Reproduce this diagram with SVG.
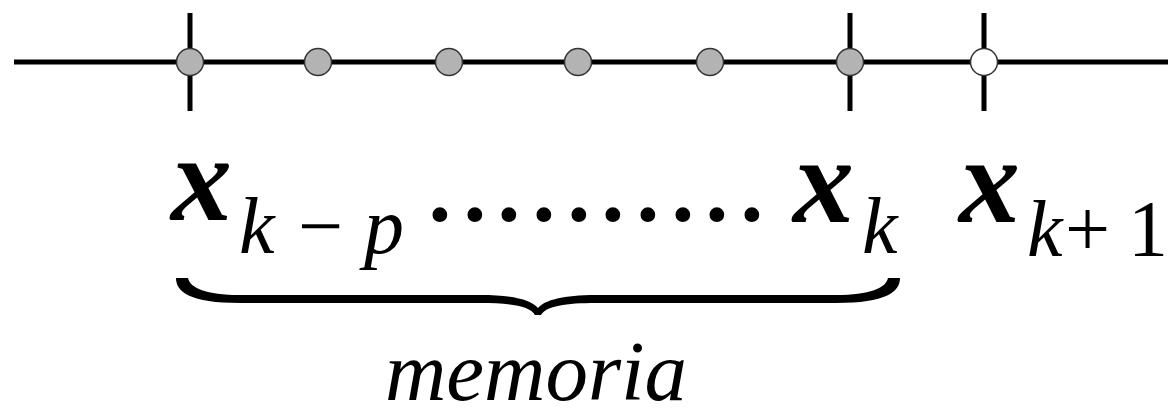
<svg xmlns="http://www.w3.org/2000/svg" width="1174" height="416" viewBox="0 0 1174 416">
  <defs>
    <!-- shared sample point marker -->
    <circle id="dot" r="13.5" stroke="#333" stroke-width="1.5"/>
  </defs>

  <!-- time axis with tick marks -->
  <g id="connectors" stroke="#000" stroke-width="5" fill="none">
    <line x1="14" y1="62" x2="1168" y2="62"/>
    <line x1="190" y1="13" x2="190" y2="111"/>
    <line x1="850" y1="13" x2="850" y2="111"/>
    <line x1="984" y1="13" x2="984" y2="111"/>
  </g>

  <!-- past samples (grey) and next sample (white) -->
  <g fill="#b3b3b3">
    <g id="p0"><use href="#dot" x="190" y="62"/></g>
    <g id="p1"><use href="#dot" x="318" y="62"/></g>
    <g id="p2"><use href="#dot" x="449" y="62"/></g>
    <g id="p3"><use href="#dot" x="578" y="62"/></g>
    <g id="p4"><use href="#dot" x="710" y="62"/></g>
    <g id="p5"><use href="#dot" x="850" y="62"/></g>
  </g>
  <g id="p6" fill="#fff"><use href="#dot" x="984" y="62"/></g>

  <!-- formula x_{k-p} ... x_k  x_{k+1} -->
  <text x="171" y="220" font-family="Liberation Serif" font-size="122" font-style="italic" font-weight="bold" style="font-family:'Liberation Serif',serif !important">x</text>
  <text x="239" y="253" font-family="Liberation Serif" font-size="80" font-style="italic" style="font-family:'Liberation Serif',serif !important">k</text>
  <text x="298" y="253" font-family="Liberation Serif" font-size="80" style="font-family:'Liberation Serif',serif !important">−</text>
  <text x="364" y="253" font-family="Liberation Serif" font-size="80" font-style="italic" style="font-family:'Liberation Serif',serif !important">p</text>
  <text x="429 464 498 533 568 602 637 672 706 741" y="235" font-family="Liberation Serif" font-size="62" style="font-family:'Liberation Serif',serif !important">••••••••••</text>
  <text x="793" y="222" font-family="Liberation Serif" font-size="122" font-style="italic" font-weight="bold" style="font-family:'Liberation Serif',serif !important">x</text>
  <text x="862" y="253" font-family="Liberation Serif" font-size="80" font-style="italic" style="font-family:'Liberation Serif',serif !important">k</text>
  <text x="959" y="222" font-family="Liberation Serif" font-size="122" font-style="italic" font-weight="bold" style="font-family:'Liberation Serif',serif !important">x</text>
  <text x="1027" y="256" font-family="Liberation Serif" font-size="80" font-style="italic" style="font-family:'Liberation Serif',serif !important">k</text>
  <text x="1065" y="256" font-family="Liberation Serif" font-size="80" style="font-family:'Liberation Serif',serif !important">+</text>
  <text x="1128" y="256" font-family="Liberation Serif" font-size="80" style="font-family:'Liberation Serif',serif !important">1</text>

  <!-- underbrace -->
  <path fill="#000" d="M176,278 C176,292 190,303 240,303 L480,303 C510,303 530,306 535,315 L541,315 C546,306 566,303 596,303 L836,303 C886,303 900,292 900,278 L888,278 C886,288 870,295 836,295 L596,295 C563,295 545,300 538,308 C531,300 513,295 480,295 L240,295 C206,295 190,288 188,278 Z"/>

  <text x="536" y="400" font-family="Liberation Serif" font-size="85" font-style="italic" text-anchor="middle" style="font-family:'Liberation Serif',serif !important">memoria</text>
</svg>
